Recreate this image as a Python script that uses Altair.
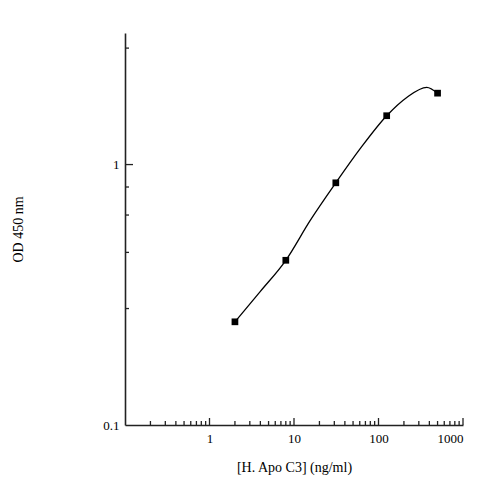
import altair as alt
import pandas as pd

# measured points
conc = [2, 8, 31.25, 125, 500]
od = [0.249, 0.429, 0.851, 1.54, 1.88]

# fitted curve
curve_x = [2, 4, 8, 15.5, 31.25, 60.4, 125, 216, 372, 500]
curve_y = [0.249, 0.326, 0.429, 0.609, 0.851, 1.148, 1.54, 1.81, 1.98, 1.88]

# axis ticks
x_labels = [1, 10, 100, 1000]
x_major = [1, 10, 100, 1000]
x_minor = [0.2, 0.3, 0.4, 0.5, 0.6, 0.7, 0.8, 0.9,
           2, 3, 4, 5, 6, 7, 8, 9,
           20, 30, 40, 50, 60, 70, 80, 90,
           200, 300, 400, 500, 600, 700, 800, 900]
y_labels = [0.1, 1]
y_major = [1]
y_minor = [0.28, 0.46, 0.64, 0.82, 2.8]

x_title = "[H. Apo C3] (ng/ml)"
y_title = "OD 450 nm"

W, H = 338, 392
FONT = "Liberation Serif"

xscale = alt.Scale(type="log", domain=[0.1, 1000], nice=False)
yscale = alt.Scale(type="log", domain=[0.1, 3.2], nice=False)

xaxis = alt.Axis(values=x_labels, format="~g", title=x_title, ticks=False, tickSize=0,
                 labelPadding=7, grid=False, titleX=W / 2, titleY=42,
                 titleBaseline="middle", titleAlign="center")
yaxis = alt.Axis(values=y_labels, format="~g", title=y_title, ticks=False, tickSize=0,
                 labelPadding=6, grid=False, titleX=-107, titleY=H / 2, titleAngle=270,
                 titleBaseline="middle", titleAlign="center")

def X():
    return alt.X("x:Q", scale=xscale, axis=xaxis)

def Y():
    return alt.Y("y:Q", scale=yscale, axis=yaxis)

pts = pd.DataFrame({"x": conc, "y": od})
crv = pd.DataFrame({"x": curve_x, "y": curve_y})

line = alt.Chart(crv).mark_line(color="black", strokeWidth=1.3, interpolate="monotone").encode(x=X(), y=Y())
points = alt.Chart(pts).mark_square(color="black", size=45, opacity=1).encode(x=X(), y=Y())

xmaj = alt.Chart(pd.DataFrame({"x": x_major})).mark_rule(color="#222", strokeWidth=1.3).encode(
    x=X(), y=alt.value(H), y2=alt.value(H - 7))
xmin = alt.Chart(pd.DataFrame({"x": x_minor})).mark_rule(color="#222", strokeWidth=1.3).encode(
    x=X(), y=alt.value(H), y2=alt.value(H - 4))
ymaj = alt.Chart(pd.DataFrame({"y": y_major})).mark_rule(color="#222", strokeWidth=1.3).encode(
    y=Y(), x=alt.value(0), x2=alt.value(8))
ymin = alt.Chart(pd.DataFrame({"y": y_minor})).mark_rule(color="#222", strokeWidth=1.3).encode(
    y=Y(), x=alt.value(0), x2=alt.value(4))

chart = alt.layer(xmin, xmaj, ymin, ymaj, line, points).properties(
    width=W, height=H, autosize="none",
    padding={"left": 117, "top": 25, "right": 10, "bottom": 55},
).configure_view(stroke=None).configure_axis(
    domainColor="#222", domainWidth=1.6,
    labelFont=FONT, labelFontSize=13, labelColor="black",
    titleFont=FONT, titleFontSize=14, titleFontWeight="normal", titleColor="black",
)

chart.save("out.html", embed_options={"renderer": "svg", "actions": False})
